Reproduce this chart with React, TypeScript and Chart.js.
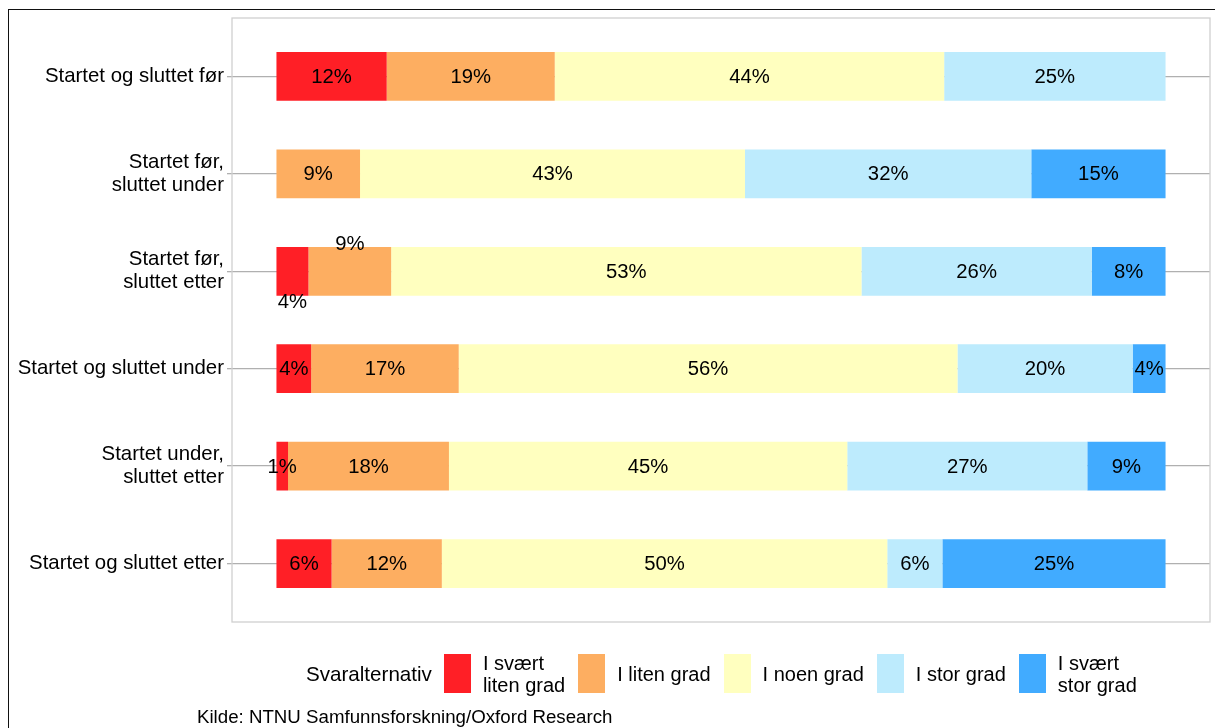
import React, { useEffect, useRef } from 'react';
import { Chart, registerables } from 'chart.js';
Chart.register(...registerables);

const categories: string[][] = [
  ['Startet og sluttet før'],
  ['Startet før,', 'sluttet under'],
  ['Startet før,', 'sluttet etter'],
  ['Startet og sluttet under'],
  ['Startet under,', 'sluttet etter'],
  ['Startet og sluttet etter'],
];
const seriesNames: string[][] = [
  ['I svært', 'liten grad'],
  ['I liten grad'],
  ['I noen grad'],
  ['I stor grad'],
  ['I svært', 'stor grad'],
];
const svaertLitenGrad = [12.4, 0, 3.6, 3.9, 1.3, 6.2];
const litenGrad = [18.9, 9.4, 9.3, 16.6, 18.1, 12.4];
const noenGrad = [43.8, 43.3, 52.9, 56.1, 44.8, 50.1];
const storGrad = [24.9, 32.2, 25.9, 19.7, 27.0, 6.2];
const svaertStorGrad = [0, 15.1, 8.3, 3.7, 8.8, 25.1];
const seriesValues = [svaertLitenGrad, litenGrad, noenGrad, storGrad, svaertStorGrad];
const seriesColors = ['#FF1F26', '#FDAE61', '#FFFFBF', '#BDEBFD', '#41ABFF'];
const legendTitle = 'Svaralternativ';
const caption = 'Kilde: NTNU Samfunnsforskning/Oxford Research';
// label nudges: "row-series" -> 1 below bar, -1 above bar
const labelNudge: Record<string, number> = { '2-0': 1, '2-1': -1 };

const FONT = '"Liberation Sans", Arial, sans-serif';

const panelPlugin = {
  id: 'panelBorder',
  afterDatasetsDraw(chart: any) {
    const { ctx, chartArea } = chart;
    const unit = (chartArea.bottom - chartArea.top) / categories.length;
    const top = chartArea.top - 0.1 * unit;
    const bottom = chartArea.bottom + 0.1 * unit;
    ctx.save();
    ctx.strokeStyle = '#d0d0d0';
    ctx.lineWidth = 1.3;
    ctx.strokeRect(chartArea.left, top, chartArea.right - chartArea.left, bottom - top);
    ctx.restore();
  },
};

const labelPlugin = {
  id: 'segLabels',
  afterDatasetsDraw(chart: any) {
    const { ctx } = chart;
    ctx.save();
    ctx.font = `20.3px ${FONT}`;
    ctx.fillStyle = '#000';
    ctx.textAlign = 'center';
    ctx.textBaseline = 'middle';
    chart.data.datasets.forEach((ds: any, si: number) => {
      const meta = chart.getDatasetMeta(si);
      meta.data.forEach((el: any, ri: number) => {
        const v = ds.data[ri];
        if (!v) return;
        const p = el.getProps(['x', 'y', 'base', 'height'], true);
        const cx = (p.x + p.base) / 2;
        let cy = p.y;
        const n = labelNudge[`${ri}-${si}`];
        if (n === 1) cy = p.y + p.height / 2 + 6;
        if (n === -1) cy = p.y - p.height / 2 - 4;
        ctx.fillText(`${Math.round(v)}%`, cx, cy + 1);
      });
    });
    ctx.restore();
  },
};

export default function App() {
  const ref = useRef<HTMLCanvasElement>(null);
  useEffect(() => {
    if (!ref.current) return;
    const chart = new Chart(ref.current, {
      type: 'bar',
      data: {
        labels: categories as any,
        datasets: seriesValues.map((vals, i) => ({
          label: seriesNames[i].join(' '),
          data: vals,
          backgroundColor: seriesColors[i],
          borderWidth: 0,
          barPercentage: 0.5,
          categoryPercentage: 1,
        })),
      },
      options: {
        indexAxis: 'y',
        responsive: false,
        animation: false,
        layout: { padding: { top: 27.74, bottom: 115.74, left: 0, right: 5 } },
        scales: {
          x: { stacked: true, min: -5, max: 105, display: false },
          y: {
            stacked: true,
            offset: true,
            grid: { offset: false, color: '#b0b0b0', lineWidth: 1.3, tickLength: 5, drawTicks: true },
            border: { display: false },
            ticks: { font: { family: FONT, size: 20.4, lineHeight: 1.13 }, color: '#000', padding: 3 },
            afterFit(scale: any) { scale.width = 232; },
          },
        },
        plugins: { legend: { display: false }, tooltip: { enabled: false } },
      },
      plugins: [panelPlugin, labelPlugin],
    });
    return () => chart.destroy();
  }, []);

  return (
    <div style={{ position: 'fixed', left: 0, top: 0, width: 1215, height: 728, overflow: 'hidden', background: '#fff' }}>
      <div style={{ position: 'absolute', left: 8, top: 9, width: 1400, height: 900, border: '1.5px solid #111' }} />
      <canvas ref={ref} width={1215} height={728} style={{ position: 'absolute', left: 0, top: 0 }} />
      <div style={{ position: 'absolute', left: 306, top: 654, height: 39, display: 'flex', alignItems: 'center', fontFamily: FONT, fontSize: 20, color: '#000', whiteSpace: 'nowrap' }}>
        <span style={{ marginRight: 12, fontSize: 20.6 }}>{legendTitle}</span>
        {seriesNames.map((name, i) => (
          <React.Fragment key={i}>
            <span style={{ width: 27, height: 39, background: seriesColors[i], marginRight: 12, display: 'inline-block', flex: 'none' }} />
            <span style={{ lineHeight: '22px', marginRight: 13 }}>
              {name.map((line, j) => (<div key={j}>{line}</div>))}
            </span>
          </React.Fragment>
        ))}
      </div>
      <div style={{ position: 'absolute', left: 197, top: 706, fontFamily: FONT, fontSize: 18.7, color: '#000', whiteSpace: 'nowrap' }}>{caption}</div>
    </div>
  );
}
